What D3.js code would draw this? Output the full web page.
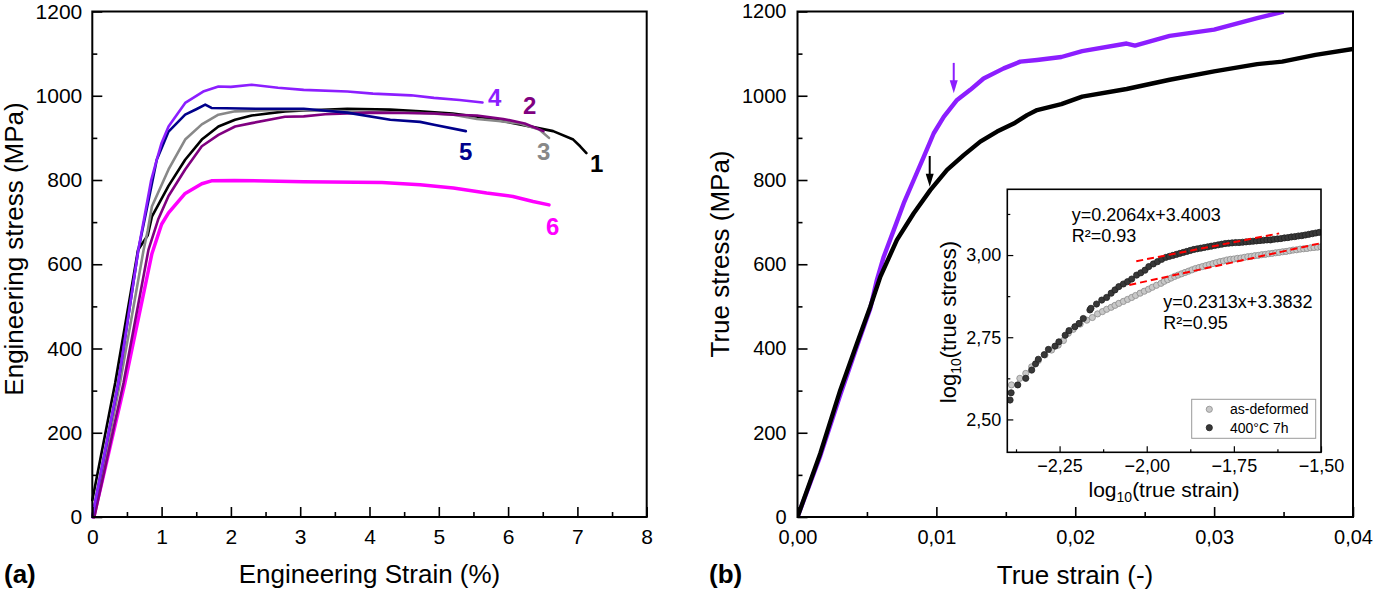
<!DOCTYPE html>
<html>
<head>
<meta charset="utf-8">
<script src="https://cdn.jsdelivr.net/npm/d3@7"></script>
<style>
body { margin: 0; background: #fff; }
svg text { font-family: "Liberation Sans", Arial, sans-serif; fill: #000; }
</style>
</head>
<body>
<svg id="chart" width="1375" height="595"></svg>
<script>
// ---------- panel (a): engineering curves, [strain %, stress MPa] ----------
const curve1 = [[0,40],[0.33,318],[0.66,634],[0.80,669],[0.86,713],[1.10,786],[1.34,848],[1.58,896],[1.82,927],[2.06,943],[2.30,953],[2.78,963],[3.05,965],[3.68,969],[4.30,967],[4.73,963],[5.20,958],[5.69,947],[6.17,932],[6.65,916],[6.94,896],[7.04,880],[7.13,864]];
const curve2 = [[0.03,0],[0.45,318],[0.81,634],[0.95,706],[1.10,762],[1.34,825],[1.58,880],[1.82,907],[2.06,927],[2.30,935],[2.78,950],[3.05,951],[3.36,956],[3.99,960],[4.50,959],[4.93,958],[5.21,955],[5.55,953],[5.93,945],[6.24,934],[6.51,916]];
const curve3 = [[0.02,0],[0.40,318],[0.74,634],[0.80,680],[0.86,737],[1.10,825],[1.34,896],[1.58,932],[1.82,955],[2.06,963],[2.78,967],[3.68,963],[4.73,959],[5.21,955],[5.55,945],[5.86,940],[6.17,934],[6.45,920],[6.59,900]];
const curve4 = [[0,0],[0.375,318],[0.664,634],[0.85,800],[0.93,848],[1.00,888],[1.10,927],[1.34,983],[1.60,1010],[1.82,1022],[2.00,1021],[2.30,1026],[2.68,1019],[3.05,1014],[3.68,1010],[4.05,1005],[4.60,1001],[4.93,995],[5.30,990],[5.63,984]];
const curve5 = [[0,0],[0.375,318],[0.664,634],[0.833,769],[0.93,848],[1.10,915],[1.34,955],[1.50,968],[1.63,979],[1.72,971],[2.43,969],[2.78,969],[3.05,969],[3.68,960],[4.30,943],[4.73,938],[4.93,931],[5.39,916]];
const curve6 = [[0.02,0],[0.135,80],[0.47,318],[0.86,625],[1.00,695],[1.10,722],[1.34,768],[1.58,791],[1.72,798],[2.05,799],[3.05,796],[4.18,794],[4.73,789],[5.21,781],[5.69,769],[6.07,761],[6.36,749],[6.59,741]];
const seriesNames = ["1","2","3","4","5","6"];
const seriesColors = ["#000000","#800080","#888888","#8c1eff","#00008b","#ff00ff"];

// ---------- panel (b): true curves, [true strain, true stress MPa] ----------
const asDeformed = [[0,0],[0.00164,151],[0.00308,301],[0.00428,412],[0.00524,499],[0.00596,570],[0.00716,658],[0.00837,721],[0.00956,776],[0.01077,824],[0.01197,859],[0.01316,891],[0.01437,915],[0.01557,934],[0.01653,954],[0.01725,966],[0.019,980],[0.0205,998],[0.0237,1016],[0.0268,1038],[0.030,1058],[0.0331,1075],[0.0349,1081],[0.0373,1097],[0.040,1111]];
const annealed = [[0,0],[0.00164,145],[0.00308,290],[0.00428,405],[0.00524,495],[0.00572,563],[0.00621,618],[0.00693,681],[0.00765,745],[0.00837,800],[0.00909,855],[0.00981,911],[0.01053,950],[0.01149,990],[0.01244,1014],[0.0134,1041],[0.01485,1065],[0.01604,1081],[0.01725,1085],[0.019,1092],[0.0205,1106],[0.0237,1124],[0.0243,1119],[0.0268,1142],[0.030,1157],[0.0331,1184],[0.035,1200]];
// arrows: [strain, stress start, stress tip]
const arrowAnnealed = [0.01125, 1078, 1006];
const arrowDeformed = [0.00952, 857, 784];

// ---------- inset: log10(true strain) vs log10(true stress) ----------
const insetDeformed = [[-2.388,2.605],[-2.364,2.625],[-2.347,2.640],[-2.330,2.660],[-2.311,2.679],[-2.292,2.696],[-2.273,2.711],[-2.254,2.726],[-2.239,2.740],[-2.225,2.762],[-2.211,2.774],[-2.191,2.790],[-2.172,2.802],[-2.156,2.810],[-2.141,2.821],[-2.127,2.828],[-2.115,2.835],[-2.102,2.841],[-2.091,2.847],[-2.080,2.853],[-2.067,2.859],[-2.055,2.865],[-2.043,2.871],[-2.032,2.877],[-2.019,2.884],[-2.007,2.890],[-1.995,2.896],[-1.984,2.902],[-1.972,2.908],[-1.959,2.914],
  [-1.950,2.920],[-1.940,2.925],[-1.930,2.930],[-1.920,2.935],[-1.910,2.939],[-1.900,2.943],[-1.890,2.947],[-1.880,2.951],[-1.870,2.955],[-1.860,2.959],[-1.850,2.962],[-1.840,2.965],[-1.830,2.968],[-1.820,2.971],[-1.810,2.974],[-1.800,2.977],[-1.790,2.980],[-1.780,2.982],[-1.770,2.985],[-1.760,2.987],[-1.750,2.988],[-1.740,2.990],[-1.730,2.991],[-1.720,2.993],[-1.710,2.995],[-1.700,2.996],[-1.690,2.998],[-1.680,2.999],[-1.670,3.001],[-1.660,3.002],[-1.650,3.004],[-1.640,3.005],[-1.630,3.007],[-1.620,3.008],[-1.610,3.010],[-1.600,3.011],[-1.590,3.013],[-1.580,3.015],[-1.570,3.016],[-1.560,3.018],[-1.550,3.019],[-1.540,3.020],[-1.530,3.022],[-1.520,3.023],[-1.510,3.024],[-1.500,3.025]];
const insetAnnealed = [[-2.392,2.559],[-2.389,2.581],[-2.370,2.605],[-2.347,2.625],[-2.330,2.650],[-2.319,2.669],[-2.311,2.683],[-2.294,2.697],[-2.282,2.713],[-2.263,2.723],[-2.252,2.736],[-2.234,2.756],[-2.223,2.770],[-2.206,2.782],[-2.194,2.792],[-2.182,2.807],[-2.163,2.833],[-2.160,2.838],[-2.144,2.851],[-2.129,2.863],[-2.115,2.871],[-2.102,2.884],[-2.091,2.894],[-2.080,2.904],[-2.067,2.912],[-2.055,2.919],[-2.043,2.927],[-2.029,2.939],[-2.017,2.946],[-2.005,2.954],[-1.994,2.965],[-1.981,2.973],[-1.969,2.980],[-1.957,2.987],
  [-1.945,2.993],[-1.935,2.996],[-1.925,2.999],[-1.915,3.002],[-1.905,3.005],[-1.895,3.008],[-1.885,3.011],[-1.875,3.014],[-1.865,3.017],[-1.855,3.019],[-1.845,3.021],[-1.835,3.023],[-1.825,3.025],[-1.815,3.027],[-1.805,3.029],[-1.795,3.031],[-1.785,3.033],[-1.775,3.035],[-1.765,3.036],[-1.755,3.037],[-1.745,3.038],[-1.735,3.038],[-1.725,3.039],[-1.715,3.040],[-1.705,3.041],[-1.695,3.042],[-1.685,3.043],[-1.675,3.044],[-1.665,3.045],[-1.655,3.046],[-1.645,3.046],[-1.635,3.048],[-1.625,3.049],[-1.615,3.050],[-1.605,3.052],[-1.595,3.053],[-1.585,3.055],[-1.575,3.056],[-1.565,3.058],[-1.555,3.059],[-1.545,3.061],[-1.535,3.063],[-1.525,3.065],[-1.515,3.067],[-1.505,3.069]];
// linear fits: [slope, intercept, xFrom, xTo]
const fitAnnealed = [0.2064, 3.4003, -2.03, -1.62];
const fitDeformed = [0.2313, 3.3832, -2.05, -1.50];
const fitTexts = [["y=0.2064x+3.4003","R²=0.93"],["y=0.2313x+3.3832","R²=0.95"]];
const legendLabels = ["as-deformed","400°C 7h"];

const svg = d3.select("#chart");
const comma = f => v => d3.format(f)(v).replace(".", ",");

// frame + inward ticks on left/bottom only
function drawAxes(g, x, y, cfg) {
    const [x0, x1] = x.range(), [y0, y1] = y.range();
    const ax = g.append("g").attr("transform", "translate(0," + y0 + ")");
    ax.call(d3.axisBottom(x).tickValues(cfg.xMinor).tickSize(-cfg.minor).tickFormat(""));
    const axM = g.append("g").attr("transform", "translate(0," + y0 + ")");
    axM.call(d3.axisBottom(x).tickValues(cfg.xMajor).tickSize(-cfg.major)
        .tickPadding(cfg.padX).tickFormat(cfg.fmtX));
    const ay = g.append("g").attr("transform", "translate(" + x0 + ",0)");
    ay.call(d3.axisLeft(y).tickValues(cfg.yMinor).tickSize(-cfg.minor).tickFormat(""));
    const ayM = g.append("g").attr("transform", "translate(" + x0 + ",0)");
    ayM.call(d3.axisLeft(y).tickValues(cfg.yMajor).tickSize(-cfg.major)
        .tickPadding(cfg.padY).tickFormat(cfg.fmtY));
    [ax, axM, ay, ayM].forEach(a => {
        a.select(".domain").remove();
        a.selectAll("line").attr("stroke", "#000").attr("stroke-width", cfg.tickW);
        a.selectAll("text").attr("font-size", cfg.font).attr("fill", "#000")
            .style("font-family", "'Liberation Sans', Arial, sans-serif");
    });
    g.append("rect").attr("x", x0).attr("y", y1)
        .attr("width", x1 - x0).attr("height", y0 - y1)
        .attr("fill", "none").attr("stroke", "#000").attr("stroke-width", cfg.frameW);
}

/*********************
 * panel (a)
 *********************/
const xa = d3.scaleLinear().domain([0, 8]).range([92.3, 646.7]);
const ya = d3.scaleLinear().domain([0, 1200]).range([517, 11.5]);
const ga = svg.append("g");

const lineA = d3.line().x(d => xa(d[0])).y(d => ya(d[1]));
const curvesA = [curve1, curve2, curve3, curve4, curve5, curve6];
// draw order as in the figure: magenta at the back
[5, 0, 2, 1, 4, 3].forEach(i => {
    ga.append("path").datum(curvesA[i]).attr("d", lineA)
        .attr("fill", "none").attr("stroke", seriesColors[i])
        .attr("stroke-width", i === 5 ? 3.5 : 2.6)
        .attr("stroke-linejoin", "round").attr("stroke-linecap", "round");
});

drawAxes(ga, xa, ya, {
    xMajor: d3.range(0, 9, 1), xMinor: d3.range(0.5, 8, 1),
    yMajor: d3.range(0, 1201, 200), yMinor: d3.range(100, 1200, 200),
    major: 10, minor: 5, padX: 12, padY: 10, font: 21,
    fmtX: d3.format("d"), fmtY: d3.format("d"), tickW: 1.6, frameW: 2
});

// curve numbers
const numPos = { "1": [590, 172], "2": [523, 114], "3": [537, 160], "4": [488, 106], "5": [459, 160], "6": [546, 235] };
seriesNames.forEach((n, i) => {
    ga.append("text").attr("x", numPos[n][0]).attr("y", numPos[n][1])
        .attr("font-size", 24).attr("font-weight", "bold")
        .style("fill", seriesColors[i]).text(n);
});

ga.append("text").attr("transform", "translate(22.5,249) rotate(-90)")
    .attr("text-anchor", "middle").attr("font-size", 26).text("Engineering stress (MPa)");
ga.append("text").attr("x", 369.5).attr("y", 583)
    .attr("text-anchor", "middle").attr("font-size", 26).text("Engineering Strain (%)");
ga.append("text").attr("x", 4).attr("y", 583)
    .attr("font-size", 26).attr("font-weight", "bold").text("(a)");

/*********************
 * panel (b)
 *********************/
const xb = d3.scaleLinear().domain([0, 0.04]).range([797.5, 1353]);
const yb = d3.scaleLinear().domain([0, 1200]).range([517, 11.5]);
const gb = svg.append("g");

svg.append("defs").append("clipPath").attr("id", "clipB")
    .append("rect").attr("x", 797.5).attr("y", 11.5).attr("width", 555.5).attr("height", 505.5);

const lineB = d3.line().x(d => xb(d[0])).y(d => yb(d[1]));
const curvesG = gb.append("g").attr("clip-path", "url(#clipB)");
curvesG.append("path").datum(annealed).attr("d", lineB)
    .attr("fill", "none").attr("stroke", "#8c1eff").attr("stroke-width", 4.4)
    .attr("stroke-linejoin", "round");
curvesG.append("path").datum(asDeformed).attr("d", lineB)
    .attr("fill", "none").attr("stroke", "#000").attr("stroke-width", 4.4)
    .attr("stroke-linejoin", "round");

function arrow(a, color) {
    const x = xb(a[0]), yS = yb(a[1]), yT = yb(a[2]);
    gb.append("line").attr("x1", x).attr("x2", x).attr("y1", yS).attr("y2", yT - 10)
        .attr("stroke", color).attr("stroke-width", 2);
    gb.append("path")
        .attr("d", "M" + (x - 4) + "," + (yT - 13) + "L" + (x + 4) + "," + (yT - 13) + "L" + x + "," + yT + "Z")
        .attr("fill", color);
}
arrow(arrowAnnealed, "#8c1eff");
arrow(arrowDeformed, "#000");

drawAxes(gb, xb, yb, {
    xMajor: [0, 0.01, 0.02, 0.03, 0.04], xMinor: [0.005, 0.015, 0.025, 0.035],
    yMajor: d3.range(0, 1201, 200), yMinor: d3.range(100, 1200, 200),
    major: 10, minor: 5, padX: 13, padY: 11, font: 20,
    fmtX: comma(".2f"), fmtY: d3.format("d"), tickW: 1.6, frameW: 2
});

gb.append("text").attr("transform", "translate(729,254) rotate(-90)")
    .attr("text-anchor", "middle").attr("font-size", 26).text("True stress (MPa)");
gb.append("text").attr("x", 1075).attr("y", 584)
    .attr("text-anchor", "middle").attr("font-size", 26).text("True strain (-)");
gb.append("text").attr("x", 709).attr("y", 583)
    .attr("font-size", 26).attr("font-weight", "bold").text("(b)");

/*********************
 * inset
 *********************/
const xi = d3.scaleLinear().domain([-2.40, -1.50]).range([1007.3, 1321]);
const yi = d3.scaleLinear().domain([2.40, 3.20]).range([452.3, 189.3]);
const gi = svg.append("g");
gi.append("rect").attr("x", 1007.3).attr("y", 189.3).attr("width", 313.7).attr("height", 263)
    .attr("fill", "#fff");

svg.select("defs").append("clipPath").attr("id", "clipI")
    .append("rect").attr("x", 1007.3).attr("y", 189.3).attr("width", 313.7).attr("height", 263);
const pts = gi.append("g").attr("clip-path", "url(#clipI)");

pts.selectAll("circle.def").data(insetDeformed).enter().append("circle")
    .attr("class", "def").attr("cx", d => xi(d[0])).attr("cy", d => yi(d[1])).attr("r", 3.1)
    .attr("fill", "#c8c8c8").attr("stroke", "#8c8c8c").attr("stroke-width", 0.8);
pts.selectAll("circle.ann").data(insetAnnealed).enter().append("circle")
    .attr("class", "ann").attr("cx", d => xi(d[0])).attr("cy", d => yi(d[1])).attr("r", 3.1)
    .attr("fill", "#383838").attr("stroke", "#222").attr("stroke-width", 0.8);

[fitAnnealed, fitDeformed].forEach(f => {
    pts.append("line")
        .attr("x1", xi(f[2])).attr("y1", yi(f[0] * f[2] + f[1]))
        .attr("x2", xi(f[3])).attr("y2", yi(f[0] * f[3] + f[1]))
        .attr("stroke", "#ff0000").attr("stroke-width", 2).attr("stroke-dasharray", "7,4");
});

drawAxes(gi, xi, yi, {
    xMajor: [-2.25, -2.0, -1.75, -1.5], xMinor: [-2.375, -2.125, -1.875, -1.625],
    yMajor: [2.5, 2.75, 3.0], yMinor: [2.625, 2.875, 3.125],
    major: 6, minor: 3, padX: 7, padY: 6, font: 18,
    fmtX: comma(".2f"), fmtY: comma(".2f"), tickW: 1.2, frameW: 1.6
});

// fit equations
gi.append("text").attr("x", 1071.7).attr("y", 220.7).attr("font-size", 18).text(fitTexts[0][0]);
gi.append("text").attr("x", 1071.7).attr("y", 241.7).attr("font-size", 18).text(fitTexts[0][1]);
gi.append("text").attr("x", 1163.3).attr("y", 308.3).attr("font-size", 18).text(fitTexts[1][0]);
gi.append("text").attr("x", 1163.3).attr("y", 329.3).attr("font-size", 18).text(fitTexts[1][1]);

// legend
const lg = gi.append("g");
lg.append("rect").attr("x", 1191.7).attr("y", 399.3).attr("width", 124).attr("height", 39)
    .attr("fill", "#fff").attr("stroke", "#9a9a9a").attr("stroke-width", 1);
[["#c8c8c8", "#8c8c8c"], ["#383838", "#222"]].forEach((c, i) => {
    lg.append("circle").attr("cx", 1209.3).attr("cy", 409.3 + i * 18.4).attr("r", 3.1)
        .attr("fill", c[0]).attr("stroke", c[1]).attr("stroke-width", 0.8);
    lg.append("text").attr("x", 1230).attr("y", 414.3 + i * 18.4)
        .attr("font-size", 14).text(legendLabels[i]);
});

// inset axis titles with subscript
const tx = gi.append("text").attr("x", 1164).attr("y", 497)
    .attr("text-anchor", "middle").attr("font-size", 21);
tx.append("tspan").text("log");
tx.append("tspan").attr("font-size", 14).attr("dy", 5).text("10");
tx.append("tspan").attr("dy", -5).text("(true strain)");

const ty = gi.append("text").attr("transform", "translate(956,322) rotate(-90)")
    .attr("text-anchor", "middle").attr("font-size", 22);
ty.append("tspan").text("log");
ty.append("tspan").attr("font-size", 14).attr("dy", 5).text("10");
ty.append("tspan").attr("dy", -5).text("(true stress)");
</script>
</body>
</html>
